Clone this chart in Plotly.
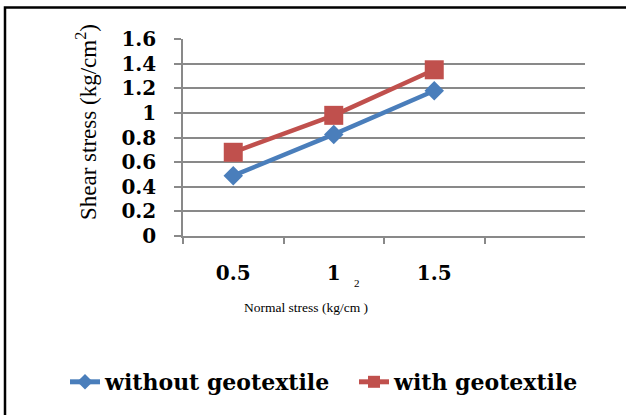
import plotly.graph_objects as go

categories = ["0.5", "1", "1.5"]
without_geo = [0.49, 0.825, 1.18]
with_geo = [0.68, 0.98, 1.35]
series_names = ["without geotextile", "with geotextile"]
y_ticks = [0, 0.2, 0.4, 0.6, 0.8, 1, 1.2, 1.4, 1.6]
y_tick_text = ["0", "0.2", "0.4", "0.6", "0.8", "1", "1.2", "1.4", "1.6"]

BLUE = "#4A7EBB"
RED = "#C0504D"
GRID = "#898989"
W, H = 626, 415
L, R, T, B = 183, 41, 39, 179
pw, ph = W - L - R, H - T - B


def px(x):
    return (x - L) / pw


def py(y):
    return (H - B - y) / ph


fig = go.Figure()
fig.add_trace(go.Scatter(
    x=categories, y=without_geo, name=series_names[0], mode="lines+markers",
    line=dict(color=BLUE, width=4.5),
    marker=dict(symbol="diamond", size=15, color=BLUE),
))
fig.add_trace(go.Scatter(
    x=categories, y=with_geo, name=series_names[1], mode="lines+markers",
    line=dict(color=RED, width=4.5),
    marker=dict(symbol="square", size=19, color=RED),
))

tick_font = dict(family="DejaVu Serif", size=20, color="black", weight="bold")

fig.update_layout(
    width=W, height=H,
    margin=dict(l=L, r=R, t=T, b=B, autoexpand=False),
    paper_bgcolor="white", plot_bgcolor="white",
    showlegend=True,
    legend=dict(
        orientation="h",
        x=px(65), xanchor="left", y=py(382), yanchor="middle",
        font=dict(family="DejaVu Serif", size=22, color="black", weight="bold"),
        itemsizing="constant", tracegroupgap=0, entrywidth=244,
    ),
    xaxis=dict(
        type="category", categoryarray=categories, range=[-0.5, 3.5],
        showgrid=False, showline=True, linecolor=GRID, linewidth=1.5,
        ticks="outside", tickson="boundaries", ticklen=6, tickcolor=GRID, tickwidth=1.5,
        tickfont=tick_font, ticklabelstandoff=18, zeroline=False,
    ),
    yaxis=dict(
        range=[0, 1.6], tickvals=y_ticks, ticktext=y_tick_text,
        showgrid=True, gridcolor=GRID, gridwidth=1.5,
        showline=True, linecolor=GRID, linewidth=1.5,
        ticks="outside", ticklen=7, tickcolor=GRID, tickwidth=1.5,
        tickfont=tick_font, ticklabelstandoff=14, zeroline=False,
    ),
    annotations=[
        dict(text="Shear stress (kg/cm<sup>2</sup>)", x=px(86), y=py(122), xref="paper", yref="paper",
             textangle=-90, showarrow=False, xanchor="center", yanchor="middle",
             font=dict(family="Liberation Serif", size=23, color="black")),
        dict(text="Normal stress (kg/cm )", x=px(306), y=py(307), xref="paper", yref="paper",
             showarrow=False, xanchor="center", yanchor="middle",
             font=dict(family="Liberation Serif", size=13.5, color="black")),
        dict(text="2", x=px(357), y=py(283), xref="paper", yref="paper",
             showarrow=False, xanchor="center", yanchor="middle",
             font=dict(family="Liberation Serif", size=11, color="black")),
    ],
    shapes=[
        dict(type="rect", xref="paper", yref="paper",
             x0=px(5), x1=px(640), y0=py(7.5), y1=py(430),
             line=dict(color="black", width=2.5), fillcolor="rgba(0,0,0,0)", layer="above"),
    ],
)

fig.write_html("out.html", config={"displayModeBar": False},
               post_script="document.body.style.margin='0';")
